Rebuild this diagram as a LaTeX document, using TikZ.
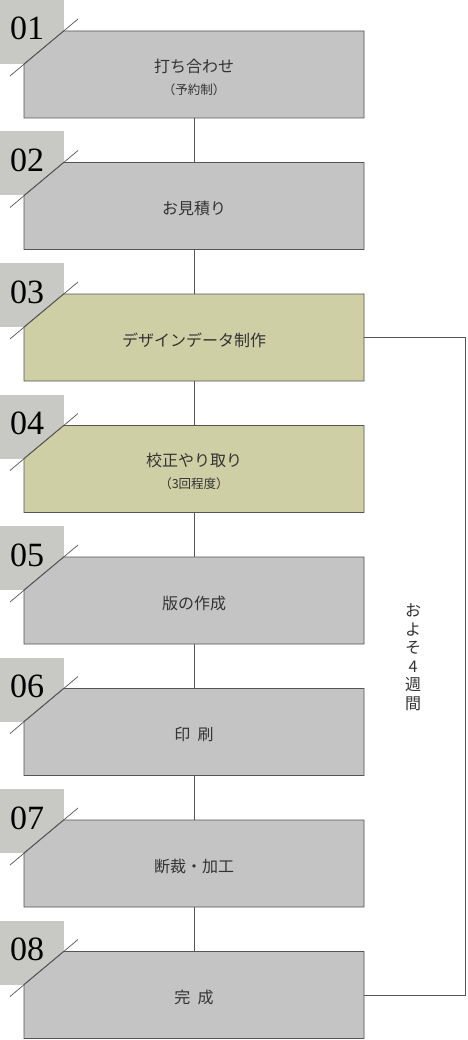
\documentclass[tikz,border=0pt]{standalone}
\usepackage{fontspec}
\setmainfont{Liberation Serif}
\newfontfamily\jp{Noto Sans CJK JP}
\usetikzlibrary{calc}
\definecolor{boxgray}{HTML}{C4C4C4}
\definecolor{boxolive}{HTML}{CFCFA6}
\definecolor{sqgray}{HTML}{C8C8C4}
\definecolor{edge}{HTML}{555555}
\definecolor{txt}{HTML}{333333}
\tikzset{
  stepanchor/.style={rectangle, minimum width=340pt, minimum height=87pt, inner sep=0pt, outer sep=0pt},
  steptext/.style={font=\jp\fontsize{16}{22}\selectfont, text=txt, align=center},
  numtext/.style={font=\fontsize{34}{34}\selectfont, text=black, inner sep=0pt, anchor=base west},
  conn/.style={draw=edge, line width=0.8pt},
}
\newcommand{\subline}[1]{{\fontsize{12.5}{14}\selectfont #1}}
\newcommand{\stepbox}[5]{%
  % #1 name, #2 top y, #3 fill, #4 number, #5 text
  \fill[sqgray] (0,#2-31) rectangle (64,#2+33);
  \node[stepanchor] (#1) at (194,#2+43.5) {};
  \filldraw[fill=#3, draw=edge, line width=0.8pt]
    ($(#1.north west)+(39.6,0)$) -- (#1.north east) -- (#1.south east)
    -- (#1.south west) -- ($(#1.north west)+(0,33)$) -- cycle;
  \draw[edge, line width=0.7pt] ($(#1.north west)+(-14,45)$) -- ($(#1.north west)+(54,-12)$);
  \node[numtext] (#1n) at (10,#2+9) {#4};
  \node[steptext] (#1t) at ($(#1)+(0,2.5)$) {#5};
}
\begin{document}
\begin{tikzpicture}[x=1pt,y=-1pt]
\useasboundingbox (0,0) rectangle (467,1040);
\fill[white] (0,0) rectangle (467,1040);
\stepbox{b1}{31}{boxgray}{01}{打ち合わせ\\[0pt]\subline{（予約制）}}
\stepbox{b2}{162.5}{boxgray}{02}{お見積り}
\stepbox{b3}{294}{boxolive}{03}{デザインデータ制作}
\stepbox{b4}{425.5}{boxolive}{04}{校正やり取り\\[0pt]\subline{（3回程度）}}
\stepbox{b5}{557}{boxgray}{05}{版の作成}
\stepbox{b6}{688.5}{boxgray}{06}{印\hspace{0.45em}刷}
\stepbox{b7}{820}{boxgray}{07}{断裁・加工}
\stepbox{b8}{951.5}{boxgray}{08}{完\hspace{0.45em}成}
\foreach \a/\b in {b1/b2,b2/b3,b3/b4,b4/b5,b5/b6,b6/b7,b7/b8}
  \draw[conn] (\a.south) -- (\b.north);
\coordinate (rc) at (465.5,660);
\draw[conn] (b3.east) -| (rc) |- (b8.east);
\node[font=\jp\fontsize{16}{18.5}\selectfont, text=txt, align=center] (lbl) at (413,657)
  {お\\よ\\そ\\4\\週\\間};
\end{tikzpicture}
\end{document}
